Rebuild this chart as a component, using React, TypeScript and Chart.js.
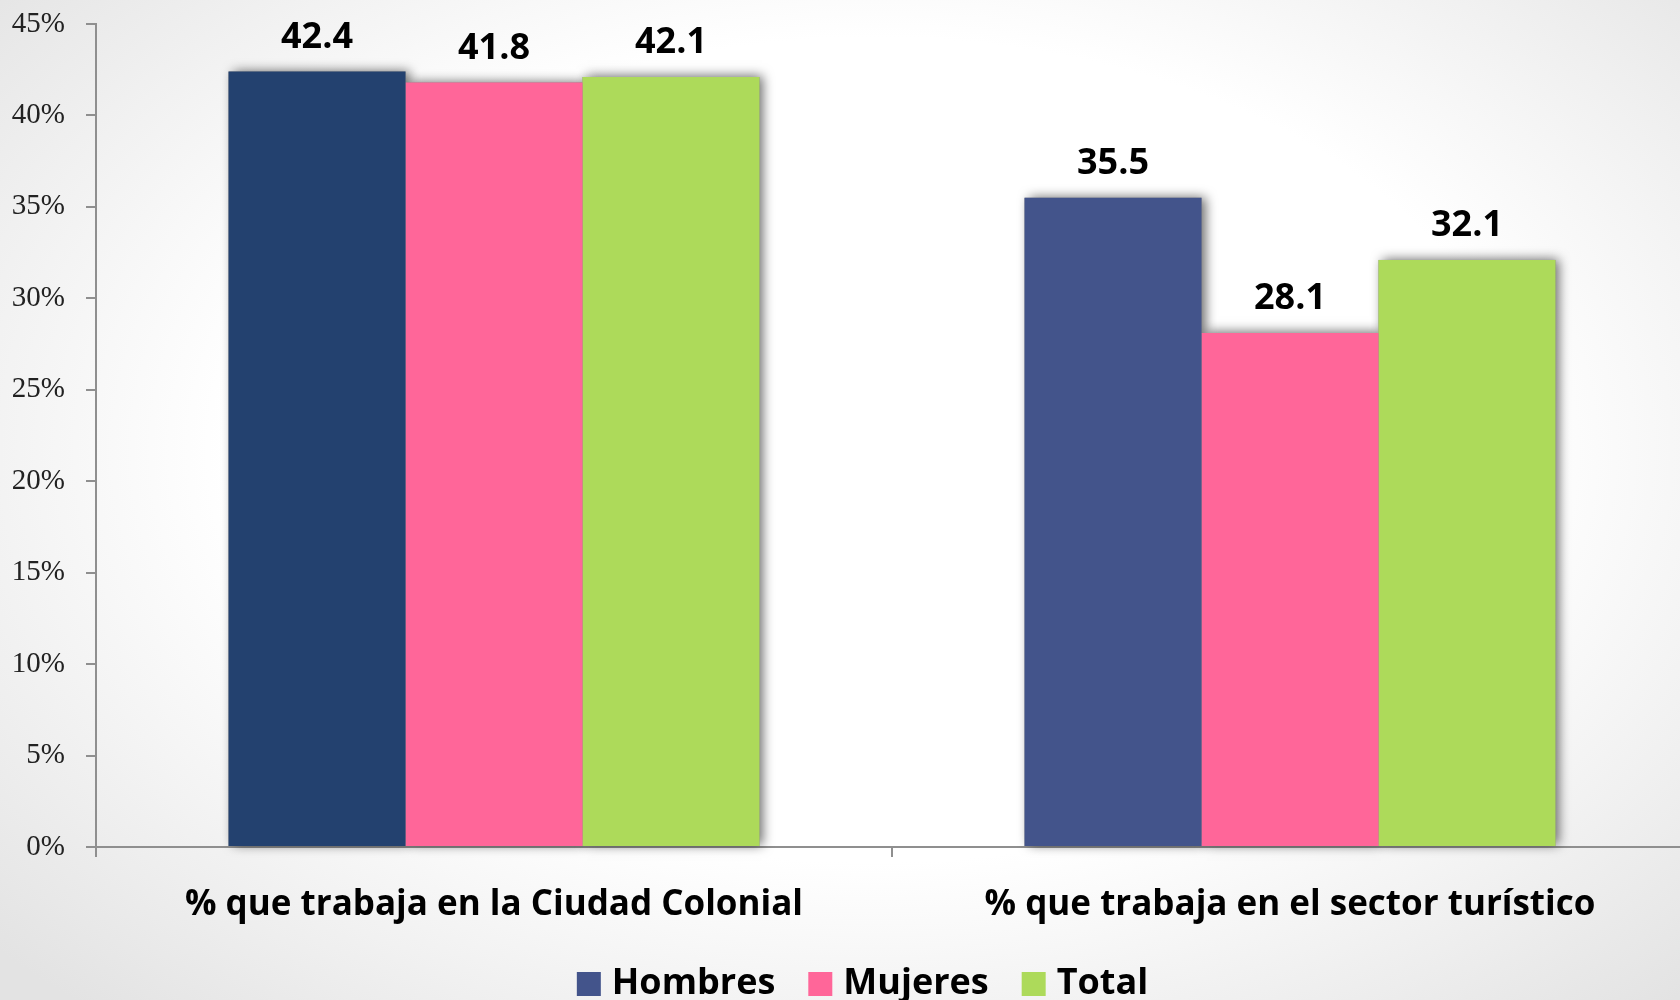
import React, { useEffect, useRef } from 'react';
import { Chart, registerables } from 'chart.js';

Chart.register(...registerables);

const categories = ['% que trabaja en la Ciudad Colonial', '% que trabaja en el sector turístico'];
const seriesNames = ['Hombres', 'Mujeres', 'Total'];
const hombres = [42.4, 35.5];
const mujeres = [41.8, 28.1];
const total = [42.1, 32.1];
const yMin = 0;
const yMax = 45;
const yStep = 5;

const hombresColors = ['#23416F', '#43548B'];
const mujeresColor = '#FF6699';
const totalColor = '#ADDA5A';
const legendColors = ['#43548B', '#FF6699', '#ADDA5A'];

const CANVAS_W = 1732;
const CANVAS_H = 1012;

const shadowPlugin = {
  id: 'barShadow',
  beforeDatasetsDraw(chart: any) {
    const ctx = chart.ctx;
    ctx.save();
    ctx.shadowColor = 'rgba(0,0,0,0.6)';
    ctx.shadowBlur = 11;
    ctx.shadowOffsetX = 4;
    ctx.shadowOffsetY = -1;
    chart.data.datasets.forEach((ds: any, di: number) => {
      const meta = chart.getDatasetMeta(di);
      meta.data.forEach((el: any) => {
        const { x, y, base, width } = el.getProps(['x', 'y', 'base', 'width'], true);
        ctx.fillStyle = '#888';
        ctx.fillRect(x - width / 2, y, width, base - y);
      });
    });
    ctx.restore();
  },
};

const labelPlugin = {
  id: 'valueLabels',
  afterDatasetsDraw(chart: any) {
    const ctx = chart.ctx;
    ctx.save();
    ctx.font = 'bold 36px "Open Sans"';
    ctx.fillStyle = '#000';
    ctx.textAlign = 'center';
    ctx.textBaseline = 'alphabetic';
    chart.data.datasets.forEach((ds: any, di: number) => {
      const meta = chart.getDatasetMeta(di);
      meta.data.forEach((el: any, i: number) => {
        const v = ds.data[i];
        ctx.fillText(v.toFixed(1), el.x, el.y - 24);
      });
    });
    ctx.restore();
  },
};

export default function App() {
  const ref = useRef<HTMLCanvasElement | null>(null);
  useEffect(() => {
    if (!ref.current) return;
    const axisColor = '#8f8f8f';
    const chart = new Chart(ref.current, {
      type: 'bar',
      data: {
        labels: categories,
        datasets: [
          { label: seriesNames[0], data: hombres, backgroundColor: hombresColors, borderWidth: 0, yAxisID: 'y' },
          { label: seriesNames[1], data: mujeres, backgroundColor: mujeresColor, borderWidth: 0, yAxisID: 'y' },
          { label: seriesNames[2], data: total, backgroundColor: totalColor, borderWidth: 0, yAxisID: 'y' },
        ],
      },
      options: {
        responsive: false,
        maintainAspectRatio: false,
        animation: false,
        devicePixelRatio: 1,
        layout: { padding: { left: 0, right: 0, top: 24, bottom: 0 } },
        datasets: { bar: { categoryPercentage: 0.667, barPercentage: 1 } },
        scales: {
          x: {
            afterFit: (s: any) => { s.height = 79; },
            grid: { drawOnChartArea: false, drawTicks: true, tickLength: 10, color: axisColor, lineWidth: 2 },
            border: { display: true, color: axisColor, width: 2 },
            ticks: {
              color: '#000',
              padding: 27,
              maxRotation: 0,
              font: { family: '"Open Sans"', weight: 'bold', size: 35 },
            },
          },
          y: {
            min: yMin,
            max: yMax,
            afterFit: (s: any) => { s.width = 96; s.paddingTop = 8; s.paddingBottom = 8; },
            grid: { drawOnChartArea: false, drawTicks: true, tickLength: 10, color: axisColor, lineWidth: 2 },
            border: { display: true, color: axisColor, width: 2 },
            ticks: {
              stepSize: yStep,
              padding: 21,
              color: '#222',
              font: { family: '"Liberation Serif"', size: 29 },
              callback: (v: any) => v + '%',
            },
          },
          yR: {
            position: 'right',
            display: true,
            afterFit: (s: any) => { s.width = 44; s.paddingTop = 0; s.paddingBottom = 0; },
            grid: { display: false },
            border: { display: false },
            ticks: { display: false },
          },
        },
        plugins: {
          tooltip: { enabled: false },
          legend: {
            position: 'bottom',
            labels: {
              usePointStyle: true,
              pointStyle: 'rect',
              boxWidth: 10,
              boxHeight: 24,
              padding: 40,
              color: '#000',
              font: { family: '"Open Sans"', weight: 'bold', size: 36 },
              generateLabels: (c: any) =>
                Chart.defaults.plugins.legend.labels.generateLabels(c).map((l: any, i: number) => ({
                  ...l,
                  pointStyle: 'rect',
                  fillStyle: legendColors[i],
                  strokeStyle: legendColors[i],
                  lineWidth: 0,
                })),
            },
          },
        },
      },
      plugins: [shadowPlugin, labelPlugin],
    } as any);
    return () => chart.destroy();
  }, []);

  return (
    <div
      style={{
        position: 'fixed',
        left: 0,
        top: 0,
        width: 1680,
        height: 1000,
        overflow: 'hidden',
        background: 'radial-gradient(ellipse 70% 75% at 52% 45%, #ffffff 55%, #e3e3e3 100%)',
      }}
    >
      <canvas ref={ref} width={CANVAS_W} height={CANVAS_H} style={{ width: CANVAS_W, height: CANVAS_H, display: 'block' }} />
    </div>
  );
}
